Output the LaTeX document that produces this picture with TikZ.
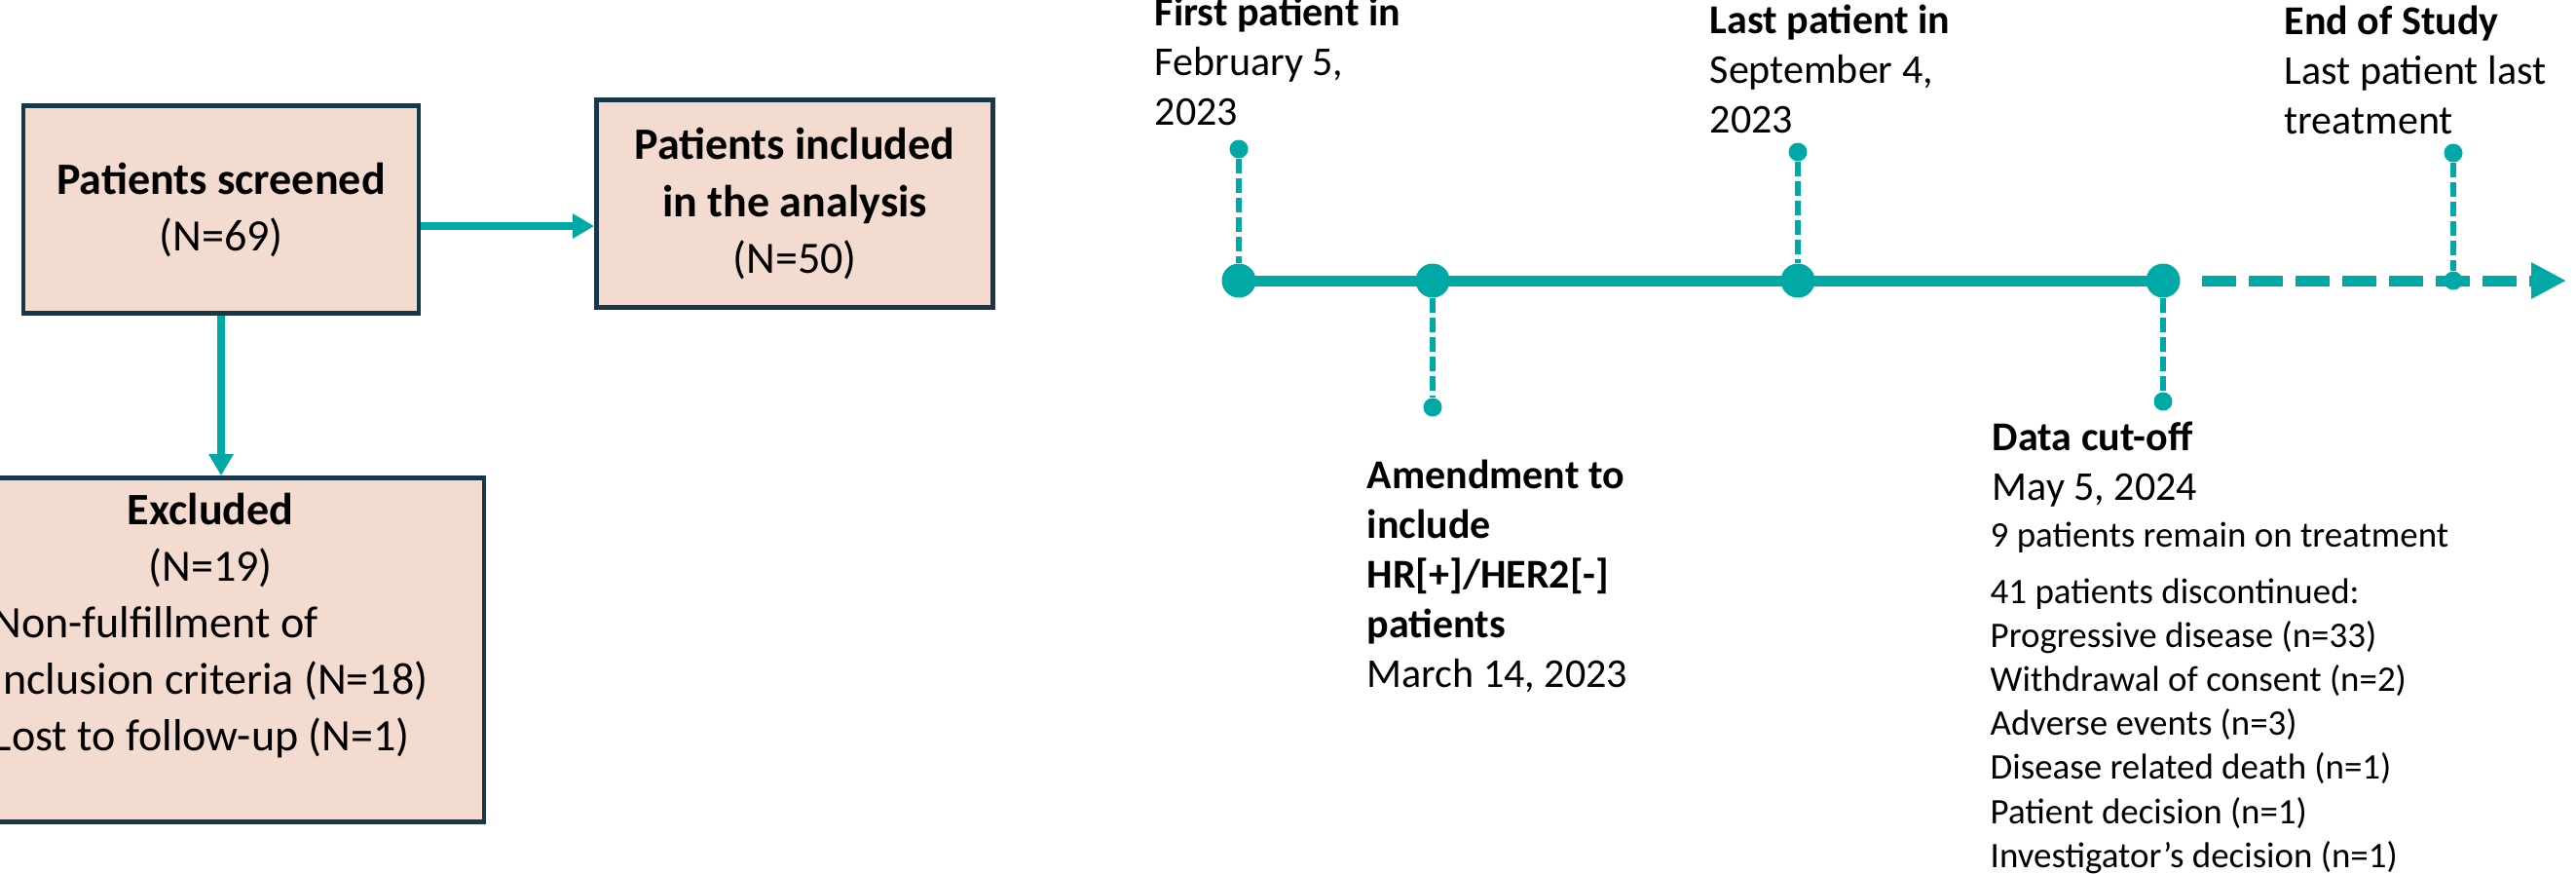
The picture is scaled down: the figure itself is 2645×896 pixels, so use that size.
\documentclass[tikz,border=0pt]{standalone}
\usepackage{fontspec}
\setmainfont{Carlito}
\usepackage{tikz}
\usetikzlibrary{shapes}
\usetikzlibrary{arrows.meta}
\definecolor{tealA}{RGB}{0,169,165}
\definecolor{boxfill}{RGB}{244,219,208}
\definecolor{boxline}{RGB}{24,56,74}
\newcommand{\boxfont}{\fontsize{13.1pt}{16.5pt}\selectfont}
\newcommand{\labfont}{\fontsize{11.95pt}{14.5pt}\selectfont}
\newcommand{\listfont}{\fontsize{10.5pt}{12.8pt}\selectfont}
\tikzstyle{box}=[rectangle,draw=boxline,fill=boxfill,line width=0.045cm,align=center,font=\boxfont,inner sep=0]
\tikzstyle{flow}=[draw=tealA,line width=0.08cm,-{Triangle[length=0.22cm,width=0.24cm]}]
\tikzstyle{bigdot}=[circle,fill=tealA,inner sep=0,minimum size=0.35cm]
\tikzstyle{smalldot}=[circle,fill=tealA,inner sep=0,minimum size=0.19cm]
\tikzstyle{tline}=[draw=tealA,line width=0.11cm]
\tikzstyle{future}=[draw=tealA,line width=0.11cm,dash pattern=on 0.35cm off 0.13cm,-{Triangle[length=0.36cm,width=0.35cm,fill=tealA]}]
\tikzstyle{dropline}=[draw=tealA,line width=0.06cm,dash pattern=on 0.15cm off 0.05cm]
\tikzstyle{lab}=[anchor=base west,align=left,inner sep=0,font=\labfont]
\tikzset{every picture/.style={x=0.01cm,y=-0.01cm}}

\begin{document}
\begin{tikzpicture}
  \clip (0,0) rectangle (2645,896);
  \fill[white] (0,0) rectangle (2645,896);

  \node[box,minimum width=4.06cm,minimum height=2.13cm] at (227,215) (screened) {\textbf{Patients screened}\\(N=69)};
  \node[box,minimum width=4.07cm,minimum height=2.13cm] at (816,209) (included) {\textbf{Patients included}\\\textbf{in the analysis}\\(N=50)};
  \node[box,minimum width=5.40cm,minimum height=3.53cm] at (227,667) (excluded) {};
  \node[anchor=base west,inner sep=0,font=\boxfont] at (-8,538) (exclText) {\begin{tabular}[t]{@{}l@{}}
    \multicolumn{1}{@{}c@{}}{\textbf{Excluded}}\\
    \multicolumn{1}{@{}c@{}}{(N=19)}\\
    Non-fulfillment of\\
    inclusion criteria (N=18)\\
    Lost to follow-up (N=1)
  \end{tabular}};
  \draw[flow] ([yshift=-0.17cm]screened.east) -- ([yshift=-0.17cm]screened.east -| included.west);
  \draw[flow] (screened) -- (excluded);

  \node[bigdot] at (1272,288) (fpi) {};
  \node[bigdot] at (1471,288) (amend) {};
  \node[bigdot] at (1846,288) (lpi) {};
  \node[bigdot] at (2221,288) (dco) {};
  \node[smalldot] at (1272,153) (fpiTop) {};
  \node[smalldot] at (1471,418) (amendBot) {};
  \node[smalldot] at (1846,156) (lpiTop) {};
  \node[smalldot] at (2221,412) (dcoBot) {};
  \node[smalldot] at (2519,157) (eosTop) {};
  \node[smalldot] at (2519,288) (eos) {};
  \coordinate (tlEnd) at (2635,288);
  \draw[tline] (fpi.center) -- (dco.center);
  \draw[future] ([xshift=0.22cm]dco.east) -- (tlEnd);
  \draw[dropline] (fpiTop) -- (fpi);
  \draw[dropline] (amend) -- (amendBot);
  \draw[dropline] (lpiTop) -- (lpi);
  \draw[dropline] (dco) -- (dcoBot);
  \draw[dropline] (eosTop) -- (eos);

  \node[lab] at (1185,128) (fpiLabel) {\textbf{First patient in}\\February 5,\\2023};
  \node[lab] at (1755,136) (lpiLabel) {\textbf{Last patient in}\\September 4,\\2023};
  \node[lab] at (2345,137) (eosLabel) {\textbf{End of Study}\\Last patient last\\treatment};
  \node[lab] at (1403,705) (amendLabel) {\textbf{Amendment to}\\\textbf{include}\\\textbf{HR[+]/HER2[-]}\\\textbf{patients}\\March 14, 2023};
  \node[lab] at (2045,513) (dcoLabel) {\textbf{Data cut-off}\\May 5, 2024};
  \node[lab,font=\listfont] at (2043,561) (dcoNote) {9 patients remain on treatment};
  \node[lab,font=\listfont] at (2043,890) (dcoList) {41 patients discontinued:\\Progressive disease (n=33)\\Withdrawal of consent (n=2)\\Adverse events (n=3)\\Disease related death (n=1)\\Patient decision (n=1)\\Investigator’s decision (n=1)};
\end{tikzpicture}
\end{document}
